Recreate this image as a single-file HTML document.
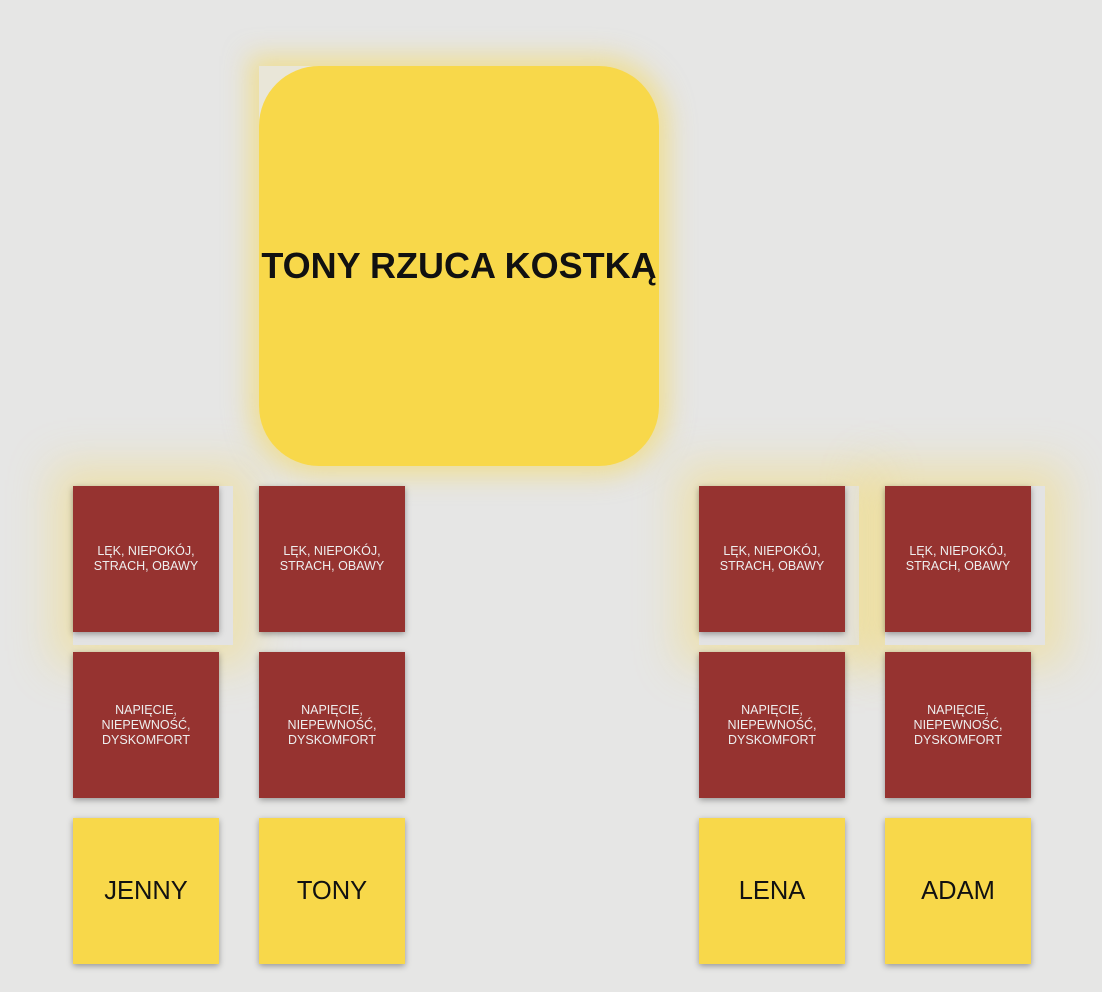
<!DOCTYPE html>
<html><head><meta charset="utf-8"><style>
body{margin:0;width:1102px;height:992px;background:#e6e6e5;position:relative;overflow:hidden;font-family:"Liberation Sans",sans-serif}
.b{position:absolute;width:146px;height:146px;display:flex;align-items:center;justify-content:center;text-align:center;box-shadow:0 2px 6px rgba(0,0,0,.35)}
.r{background:#963330;color:#eee;font-size:12.5px;line-height:15px}
.y{background:#f8d84a;color:#111;font-size:25.5px}
.g{position:absolute;background:#e3e3e3;box-shadow:0 0 40px 20px rgba(248,216,74,.35)}
</style></head><body>
<div class="g" style="left:73px;top:486px;width:160px;height:159px"></div>
<div class="g" style="left:699px;top:486px;width:160px;height:159px"></div>
<div class="g" style="left:885px;top:486px;width:160px;height:159px"></div>
<div style="position:absolute;left:259px;top:66px;width:400px;height:400px;background:#e9e6d8;border-radius:60px;border-top-left-radius:0;box-shadow:0 0 25px 10px rgba(248,216,74,.5);"></div>
<div style="position:absolute;left:259px;top:66px;width:400px;height:400px;background:#f8d84a;border-radius:60px;display:flex;align-items:center;justify-content:center;font-weight:bold;font-size:36px;color:#111;white-space:nowrap">TONY RZUCA KOSTKĄ</div>
<div class="b r" style="left:73px;top:486px">LĘK, NIEPOKÓJ,<br>STRACH, OBAWY</div>
<div class="b r" style="left:259px;top:486px">LĘK, NIEPOKÓJ,<br>STRACH, OBAWY</div>
<div class="b r" style="left:699px;top:486px">LĘK, NIEPOKÓJ,<br>STRACH, OBAWY</div>
<div class="b r" style="left:885px;top:486px">LĘK, NIEPOKÓJ,<br>STRACH, OBAWY</div>
<div class="b r" style="left:73px;top:652px">NAPIĘCIE,<br>NIEPEWNOŚĆ,<br>DYSKOMFORT</div>
<div class="b r" style="left:259px;top:652px">NAPIĘCIE,<br>NIEPEWNOŚĆ,<br>DYSKOMFORT</div>
<div class="b r" style="left:699px;top:652px">NAPIĘCIE,<br>NIEPEWNOŚĆ,<br>DYSKOMFORT</div>
<div class="b r" style="left:885px;top:652px">NAPIĘCIE,<br>NIEPEWNOŚĆ,<br>DYSKOMFORT</div>
<div class="b y" style="left:73px;top:818px">JENNY</div>
<div class="b y" style="left:259px;top:818px">TONY</div>
<div class="b y" style="left:699px;top:818px">LENA</div>
<div class="b y" style="left:885px;top:818px">ADAM</div>
</body></html>
